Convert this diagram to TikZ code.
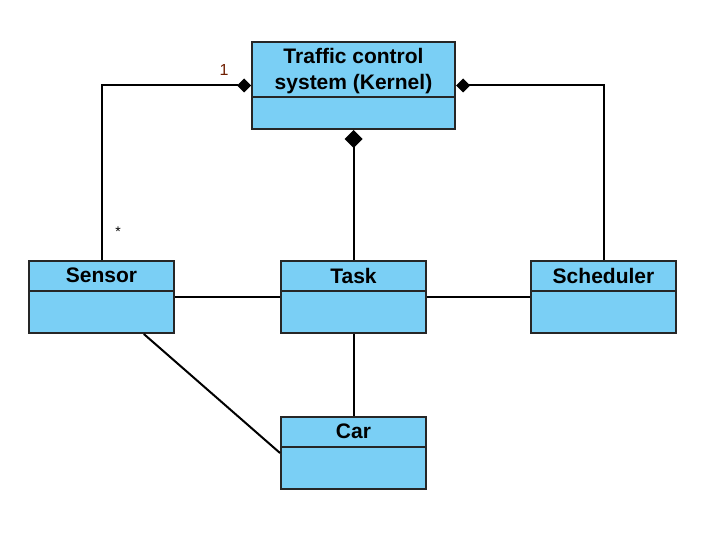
\documentclass[tikz,border=0pt]{standalone}
\usepackage{fontspec}
\setmainfont{Liberation Sans}
\usetikzlibrary{arrows.meta,positioning}
\definecolor{classblue}{RGB}{122,207,245}
\definecolor{multred}{RGB}{110,30,0}

\begin{document}
\begin{tikzpicture}[x=1pt,y=1pt,
    umlclass/.style={draw=black!85,line width=2pt,fill=classblue,minimum width=145pt,minimum height=72pt,inner sep=0pt},
    umltitle/.style={font=\fontsize{21}{26}\selectfont\bfseries,align=center,inner sep=0pt},
    assoc/.style={line width=2pt},
    compo/.style={line width=2pt,-{Diamond[length=14pt,width=14pt]}}]
    \useasboundingbox (0,0) rectangle (714,539);
    % classes
    \node[umlclass,minimum width=203pt,minimum height=87pt] (kernel) at (353.5,453.5) {};
    \node[umlclass] (sensor) at (101.5,242) {};
    \node[umlclass] (task) at (353.5,242) {};
    \node[umlclass] (scheduler) at (603.5,242) {};
    \node[umlclass] (car) at (353.5,86) {};
    \node[umltitle] (kerneltitle) at ([yshift=-30.5pt]kernel.north) {Traffic control\\system (Kernel)};
    \draw[line width=2pt,black!85] ([yshift=-56pt]kernel.north west) -- ([yshift=-56pt]kernel.north east);
    \foreach \name/\label in {sensor/Sensor,task/Task,scheduler/Scheduler,car/Car}{
      \node[umltitle] (\name title) at ([yshift=-15.5pt]\name.north) {\label};
      \draw[line width=2pt,black!85] ([yshift=-31pt]\name.north west) -- ([yshift=-31pt]\name.north east);
    }
    % connectors
    \draw[compo] (sensor.north) |- (kernel.west);
    \draw[compo] (scheduler.north) |- (kernel.east);
    \draw[compo,-{Diamond[length=18pt,width=18pt]}] (task) -- (kernel);
    \draw[assoc] (sensor) -- (task);
    \draw[assoc] (task) -- (scheduler);
    \draw[assoc] (task) -- (car);
    \draw[assoc] (sensor) -- (car.west);
    % multiplicities
    \node[text=multred,font=\fontsize{16}{18}\selectfont] (one) at (224,469) {1};
    \node[font=\fontsize{14}{16}\selectfont] (many) at (118,307) {*};
\end{tikzpicture}
\end{document}
